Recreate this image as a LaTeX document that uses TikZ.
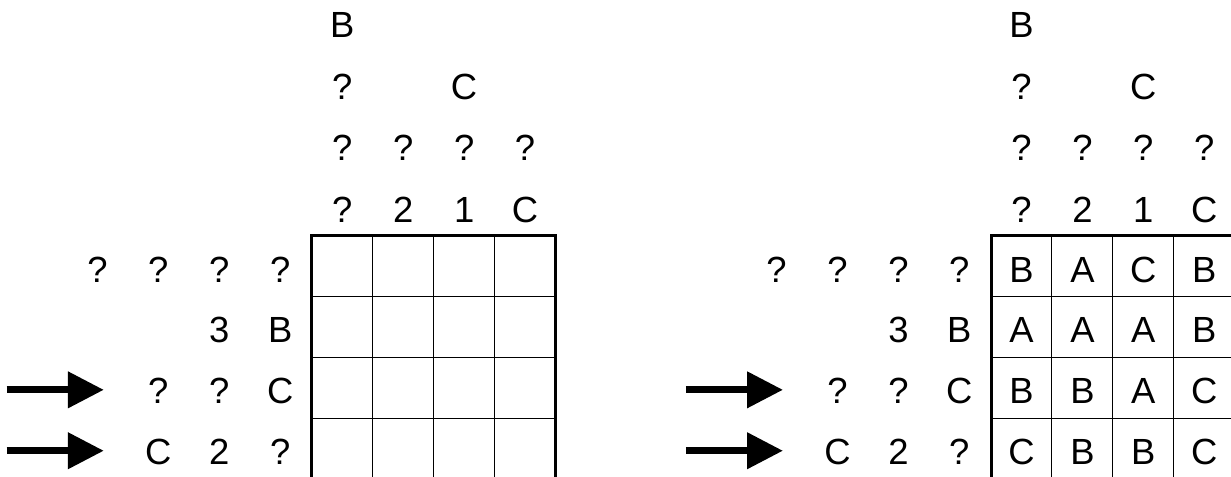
\documentclass[tikz,border=0pt]{standalone}
\usepackage{fontspec}
\setmainfont{Liberation Sans}
\usetikzlibrary{arrows.meta}

\tikzset{
  clue/.style={anchor=base, inner sep=0pt, font=\fontsize{17}{20}\selectfont},
  frame/.style={line width=1.4pt},
  cell/.style={line width=0.5pt},
  pointer/.style={line width=3.3pt, -{Triangle[length=0.59cm,width=0.575cm]}}
}

\begin{document}
\begin{tikzpicture}
\useasboundingbox (-5.12,-3.95) rectangle (15.09,3.87);

% both panels: grid, top clues, side clues, arrows
\foreach \p/\dx in {L/0, R/11.15} {
  \begin{scope}[xshift=\dx cm]
    \foreach \i in {1,2,3} {
      \draw[cell] (\i,0) -- (\i,-4);
      \draw[cell] (0,-\i) -- (4,-\i);
    }
    \draw[frame] (0,-4) rectangle (4,0);
    \foreach \c/\list in {0/{?,?,?,B}, 1/{2,?}, 2/{1,?,C}, 3/{C,?}}
      \foreach \t [count=\k from 0] in \list
        \node[clue] (\p t\c\k) at (\c+0.5,0.22+1.01*\k) {\t};
    \foreach \r/\list in {0/{?,?,?,?}, 1/{B,3}, 2/{C,?,?}, 3/{?,2,C}}
      \foreach \t [count=\k from 0] in \list
        \node[clue] (\p s\r\k) at (-0.52-\k,-\r-0.76) {\t};
    \foreach \r in {2,3} {
      \coordinate (\p from\r) at (-5.01,-\r-0.53);
      \coordinate (\p to\r) at (-3.415,-\r-0.53);
      \draw[pointer] (\p from\r) -- (\p to\r);
    }
  \end{scope}
}

% filled-in cells of the right panel
\begin{scope}[xshift=11.15cm]
  \foreach \r/\list in {0/{B,A,C,B}, 1/{A,A,A,B}, 2/{B,B,A,C}, 3/{C,B,B,C}}
    \foreach \t [count=\c from 0] in \list
      \node[clue] (val\r\c) at (\c+0.5,-\r-0.76) {\t};
\end{scope}
\end{tikzpicture}
\end{document}
